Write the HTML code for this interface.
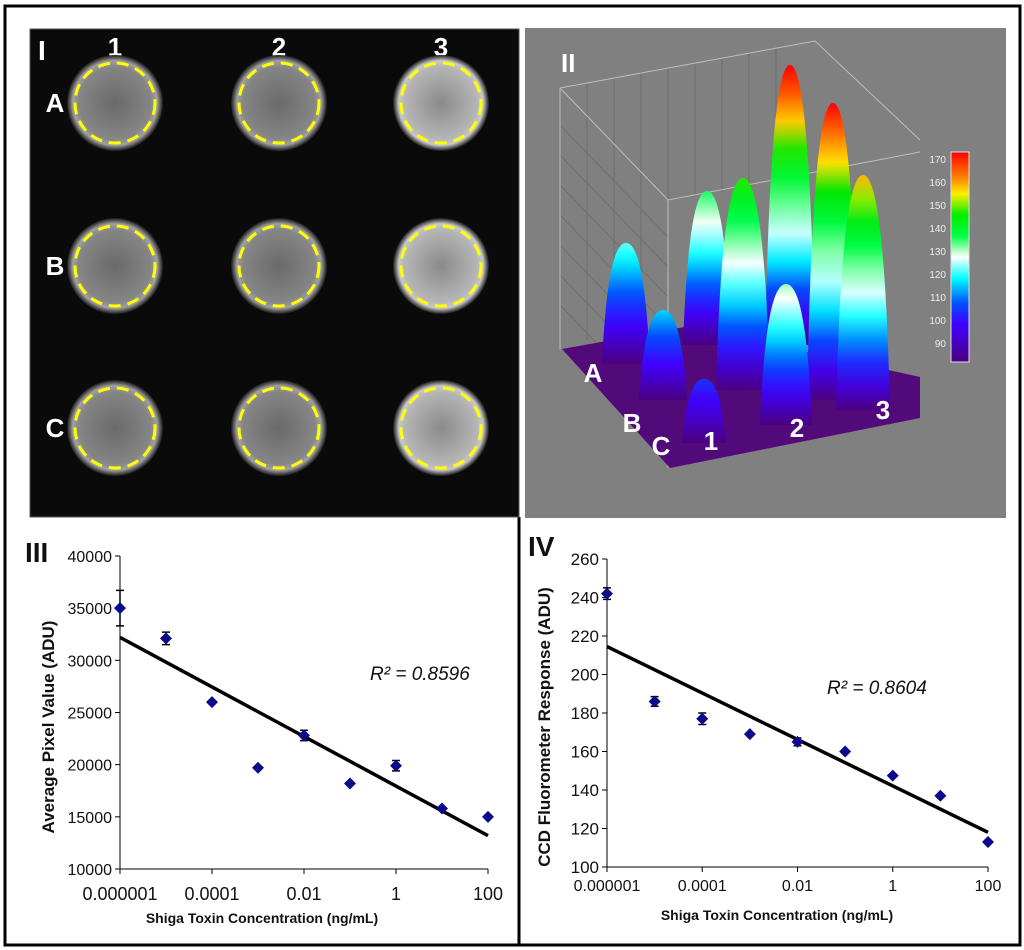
<!DOCTYPE html>
<html><head><meta charset="utf-8"><style>
html,body{margin:0;padding:0;background:#fff;}
svg{display:block;font-family:"Liberation Sans",Arial,sans-serif;}
</style></head><body>
<svg id="fig" width="1024" height="950" viewBox="0 0 1024 950" xmlns="http://www.w3.org/2000/svg">
<defs>
  <radialGradient id="well" cx="50%" cy="50%" r="50%">
    <stop offset="0" stop-color="#6a6a6a"/><stop offset="0.75" stop-color="#858585"/><stop offset="0.88" stop-color="#a0a0a0"/><stop offset="1" stop-color="#1a1a1a"/>
  </radialGradient>
  <radialGradient id="wellB" cx="50%" cy="50%" r="50%">
    <stop offset="0" stop-color="#8a8a8a"/><stop offset="0.75" stop-color="#b5b5b5"/><stop offset="0.88" stop-color="#c8c8c8"/><stop offset="1" stop-color="#1a1a1a"/>
  </radialGradient>
  <linearGradient id="cbar" x1="0" y1="0" x2="0" y2="1">
    <stop offset="0" stop-color="#ff0000"/><stop offset="0.12" stop-color="#ff8000"/><stop offset="0.2" stop-color="#ffee00"/><stop offset="0.3" stop-color="#00ee00"/><stop offset="0.4" stop-color="#00ff44"/><stop offset="0.5" stop-color="#ffffff"/><stop offset="0.6" stop-color="#00ffff"/><stop offset="0.72" stop-color="#0050ff"/><stop offset="0.82" stop-color="#4000ff"/><stop offset="1" stop-color="#4b0080"/>
  </linearGradient>
</defs>
<rect x="5" y="6" width="1015" height="939" fill="none" stroke="#000" stroke-width="3"/>
<line x1="519" y1="517" x2="519" y2="945" stroke="#000" stroke-width="3"/>

<g id="p1">
  <rect x="30" y="29" width="489" height="488" fill="#0a0a0a" stroke="#555" stroke-width="1"/>
  <text x="38" y="60" font-size="28" font-weight="bold" fill="#fff">I</text>
</g>

<g id="p2">
  <rect x="525" y="28" width="481" height="490" fill="#808080"/>
  <text x="561" y="72" font-size="26" font-weight="bold" fill="#fff">II</text>
  <g stroke="#6e6e6e" stroke-width="1" fill="none">
    <path d="M587 83 L587 340 M614 78 L614 336 M641 73 L641 332 M668 68 L668 200 M695 63 L695 196 M722 58 L722 192 M749 53 L749 188 M776 48 L776 184 M560 125 L668 237 M560 155 L668 267 M560 185 L668 297 M560 215 L668 327 M560 245 L668 357 M560 275 L668 387 M560 305 L668 417"/>
  </g>
  <g stroke="#bdbdbd" stroke-width="1" fill="none">
    <path d="M560 88 L815 41 L920 140 M560 88 L560 349 M560 88 L668 200 L920 152 M668 200 L668 468"/>
  </g>
  <polygon points="562,349 690,326 920,377 920,418 670,468" fill="#520a7a"/>
  <rect x="951" y="152" width="18" height="210" fill="url(#cbar)" stroke="#ddd"/>
</g>

<g id="p3"></g>
<g id="p4"></g>
</svg>
<script>
const NS="http://www.w3.org/2000/svg";
function mk(tag,attrs,parent,txt){const e=document.createElementNS(NS,tag);for(const k in attrs)e.setAttribute(k,attrs[k]);if(txt!==undefined)e.textContent=txt;parent.appendChild(e);return e;}

const wellCols=["1","2","3"];
const wellRows=["A","B","C"];
const wellBright=[[0,0,1],[0,0.5,1],[0,0,0.7]];
const p1=document.getElementById('p1');
const colX=[115,279,441], rowY=[103,266,428];
wellCols.forEach((c,i)=>{
  const t=mk('text',{x:colX[i],y:56,'font-size':26,'font-weight':'bold',fill:'#fff','text-anchor':'middle'},p1,c);
  
  
});
wellRows.forEach((r,j)=>{
  const t=mk('text',{x:55,y:rowY[j]+9,'font-size':26,'font-weight':'bold',fill:'#fff','text-anchor':'middle'},p1,r);
  
  
  wellCols.forEach((c,i)=>{
    const w=mk('circle',{cx:colX[i],cy:rowY[j],r:48,fill:wellBright[j][i]>0.6?'url(#wellB)':'url(#well)'},p1);
    
    
    const d=mk('circle',{cx:colX[i],cy:rowY[j],r:40,fill:'none',stroke:'#ffff00','stroke-width':3,'stroke-dasharray':'12 7'},p1);
    
    
  });
});

const peakNames=["A3","A2","B3","A1","B2","C3","B1","C2","C1"];
const peakValues=[172,132,170,116,146,156,110,126,100];
const peakTopX=[790,707,833,626,743,863,663,786,704];
const peakTopY=[65,191,103,243,178,175,310,284,379];
const peakBaseY=[345,345,400,364,390,410,400,425,443];
const peakHalfW=[21,20,22,20,23,23,20,22,18];
const p2=document.getElementById('p2');
const defs=document.querySelector('defs');
const cmap=[[85,[75,0,128]],[95,[64,0,255]],[103,[0,80,255]],[112,[0,255,255]],[122,[255,255,255]],[133,[0,255,80]],[145,[0,230,0]],[152,[255,238,0]],[160,[255,128,0]],[170,[255,0,0]]];
function col(v){if(v<=cmap[0][0])return cmap[0][1];for(let i=1;i<cmap.length;i++){if(v<=cmap[i][0]){const a=cmap[i-1],b=cmap[i];const t=(v-a[0])/(b[0]-a[0]);return a[1].map((x,k)=>Math.round(x+(b[1][k]-x)*t));}}return cmap[cmap.length-1][1];}
peakNames.forEach((n,i)=>{
  const g=mk('linearGradient',{id:'pg'+i,x1:0,y1:0,x2:0,y2:1},defs);
  for(let s=0;s<=10;s++){const v=peakValues[i]-(peakValues[i]-85)*s/10;const c=col(v);mk('stop',{offset:s/10,'stop-color':'rgb('+c.join(',')+')'},g);}
  const x=peakTopX[i],t=peakTopY[i],b=peakBaseY[i],w=peakHalfW[i],h=b-t;
  const d=`M${x-w-4} ${b} C${x-w} ${t+h*0.3} ${x-w*0.6} ${t} ${x} ${t} C${x+w*0.6} ${t} ${x+w} ${t+h*0.3} ${x+w+4} ${b} Z`;
  const p=mk('path',{d:d,fill:'url(#pg'+i+')'},p2);
  
  
});
const cbTicks=["170","160","150","140","130","120","110","100","90"];
cbTicks.forEach((t,i)=>{
  const e=mk('text',{x:946,y:163+i*23,'font-size':10,fill:'#eee','text-anchor':'end'},p2,t);
  
  
});
[["A",593,382],["B",632,432],["C",661,455],["1",711,450],["2",797,437],["3",883,419]].forEach(l=>{
  const e=mk('text',{x:l[1],y:l[2],'font-size':26,'font-weight':'bold',fill:'#fff','text-anchor':'middle'},p2,l[0]);
  
  
});

const xLogs=[-6,-5,-4,-3,-2,-1,0,1,2];
const xTickLabels=["0.000001","0.0001","0.01","1","100"];
const xTickLogs=[-6,-4,-2,0,2];
const p3Values=[35000,32100,26000,19700,22800,18200,19900,15800,15000];
const p3Errors=[1700,600,0,0,500,0,500,0,0];
const p3Trend=[32200,13200];
const p3YTicks=[10000,15000,20000,25000,30000,35000,40000];
const p4Values=[242,186,177,169,165,160,147.5,137,113];
const p4Errors=[3,2.5,3,0,2,0,0,0,0];
const p4Trend=[214.5,118];
const p4YTicks=[100,120,140,160,180,200,220,240,260];

function chart(gid,cfg){
  const g=document.getElementById(gid);
  const sx=v=>cfg.x0+(v-(-6))/8*(cfg.x1-cfg.x0);
  const sy=v=>cfg.yb-(v-cfg.ymin)/(cfg.ymax-cfg.ymin)*(cfg.yb-cfg.yt);
  const ax=mk('path',{d:`M${cfg.x0} ${cfg.yt} L${cfg.x0} ${cfg.yb} L${cfg.x1} ${cfg.yb}`,stroke:'#000','stroke-width':1,fill:'none'},g);
  
  
  cfg.yTicks.forEach(v=>{
    mk('line',{x1:cfg.x0-5,y1:sy(v),x2:cfg.x0,y2:sy(v),stroke:'#000'},g);
    const t=mk('text',{x:cfg.x0-8,y:sy(v)+6,'font-size':cfg.yfs,'text-anchor':'end',fill:'#111'},g,String(v));
    
    
  });
  xTickLogs.forEach((v,i)=>{
    mk('line',{x1:sx(v),y1:cfg.yb,x2:sx(v),y2:cfg.yb+5,stroke:'#000'},g);
    const t=mk('text',{x:sx(v),y:cfg.xly,'font-size':cfg.xfs,'text-anchor':'middle',fill:'#111'},g,xTickLabels[i]);
    
    
  });
  const tr=mk('line',{x1:sx(-6),y1:sy(cfg.trend[0]),x2:sx(2),y2:sy(cfg.trend[1]),stroke:'#000','stroke-width':3.5},g);
  
  
  xLogs.forEach((lx,i)=>{
    const x=sx(lx),y=sy(cfg.values[i]),e=cfg.errors[i];
    if(e>0){
      const eb=mk('path',{d:`M${x} ${sy(cfg.values[i]+e)} L${x} ${sy(cfg.values[i]-e)} M${x-4} ${sy(cfg.values[i]+e)} L${x+4} ${sy(cfg.values[i]+e)} M${x-4} ${sy(cfg.values[i]-e)} L${x+4} ${sy(cfg.values[i]-e)}`,stroke:'#000','stroke-width':1.5,fill:'none'},g);
      
      
    }
    const m=mk('path',{d:`M${x} ${y-6} L${x+6} ${y} L${x} ${y+6} L${x-6} ${y} Z`,fill:'#0a0a8a'},g);
    
    
  });
  const r=mk('text',{x:cfg.rx,y:cfg.ry,'font-size':19,'font-style':'italic',fill:'#111'},g,cfg.r2);
  
  
  const yt=mk('text',{x:0,y:0,'font-size':17,'font-weight':'bold','text-anchor':'middle',fill:'#111',transform:`translate(${cfg.ytx},${cfg.yty}) rotate(-90)`},g,cfg.ytitle);
  
  
  const xt=mk('text',{x:cfg.xtx,y:cfg.xty,'font-size':14,'font-weight':'bold','text-anchor':'middle',fill:'#111'},g,'Shiga Toxin Concentration (ng/mL)');
  
  
  const pl=mk('text',{x:cfg.plx,y:cfg.ply,'font-size':28,'font-weight':'bold',fill:'#111'},g,cfg.plabel);
  
  
}
chart('p3',{x0:120,x1:488,yt:556,yb:869,ymin:10000,ymax:40000,yTicks:p3YTicks,yfs:16,values:p3Values,errors:p3Errors,trend:p3Trend,xly:900,xfs:18,rx:370,ry:680,r2:'R² = 0.8596',ytx:54,yty:727,ytitle:'Average Pixel Value (ADU)',xtx:262,xty:923,plx:25,ply:562,plabel:'III'});
chart('p4',{x0:607,x1:988,yt:559,yb:867,ymin:100,ymax:260,yTicks:p4YTicks,yfs:17,values:p4Values,errors:p4Errors,trend:p4Trend,xly:891,xfs:16,rx:827,ry:694,r2:'R² = 0.8604',ytx:550,yty:727,ytitle:'CCD Fluorometer Response (ADU)',xtx:777,xty:920,plx:528,ply:556,plabel:'IV'});
</script>
</body></html>
